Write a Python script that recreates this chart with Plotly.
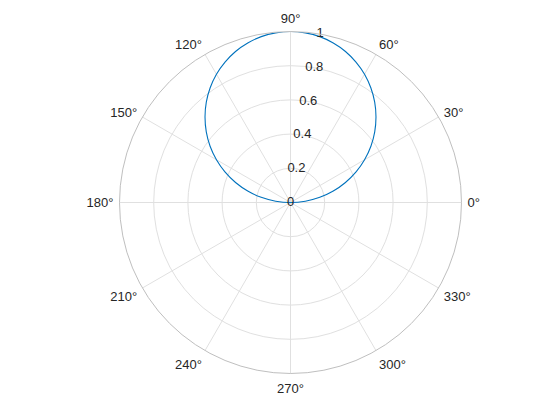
import plotly.graph_objects as go

# r = sin(theta), sampled every 5 degrees over the upper half plane
theta_deg = [0, 5, 10, 15, 20, 25, 30, 35, 40, 45, 50, 55, 60, 65, 70, 75, 80, 85, 90,
             95, 100, 105, 110, 115, 120, 125, 130, 135, 140, 145, 150, 155, 160, 165,
             170, 175, 180]
r_vals = [0.0, 0.087, 0.174, 0.259, 0.342, 0.423, 0.5, 0.574, 0.643, 0.707, 0.766,
          0.819, 0.866, 0.906, 0.940, 0.966, 0.985, 0.996, 1.0,
          0.996, 0.985, 0.966, 0.940, 0.906, 0.866, 0.819, 0.766, 0.707, 0.643,
          0.574, 0.5, 0.423, 0.342, 0.259, 0.174, 0.087, 0.0]

r_ticks = [0, 0.2, 0.4, 0.6, 0.8, 1]
theta_ticks = [0, 30, 60, 90, 120, 150, 180, 210, 240, 270, 300, 330]
r_label_angle = 80  # MATLAB default RAxisLocation

GRID = "#e0e0e0"
TEXT = "#262626"
FONT = "Liberation Sans, Arial, sans-serif"

fig = go.Figure()
fig.add_trace(go.Scatterpolar(
    r=r_vals, theta=theta_deg, mode="lines",
    line=dict(color="#0072BD", width=1.1, shape="spline"),
    hoverinfo="skip", showlegend=False))
# radial tick labels, centred on the 80 deg spoke like MATLAB
fig.add_trace(go.Scatterpolar(
    r=r_ticks, theta=[r_label_angle] * len(r_ticks), mode="text",
    text=[f"{v:g}" for v in r_ticks], textposition="middle center",
    textfont=dict(family=FONT, size=13, color=TEXT), cliponaxis=False,
    hoverinfo="skip", showlegend=False))

fig.update_layout(
    width=560, height=420,
    paper_bgcolor="white",
    margin=dict(l=0, r=0, t=0, b=0),
    font=dict(family=FONT, size=13, color=TEXT),
    polar=dict(
        domain=dict(x=[0.2134, 0.8241], y=[0.1107, 0.925]),
        bgcolor="white",
        radialaxis=dict(range=[0, 1], tickvals=r_ticks, showticklabels=False,
                        angle=r_label_angle, showline=False, ticks="",
                        gridcolor=GRID, gridwidth=1),
        angularaxis=dict(tickvals=theta_ticks, ticktext=[f"{v}°" for v in theta_ticks],
                         direction="counterclockwise", rotation=0,
                         showline=True, linecolor="#bfbfbf", linewidth=1,
                         ticks="outside", ticklen=3, tickcolor="rgba(0,0,0,0)",
                         gridcolor=GRID, gridwidth=1,
                         tickfont=dict(size=13, color=TEXT)),
    ),
)

fig.write_html("out.html", config={"displayModeBar": False},
               post_script="document.body.style.margin='0';")
